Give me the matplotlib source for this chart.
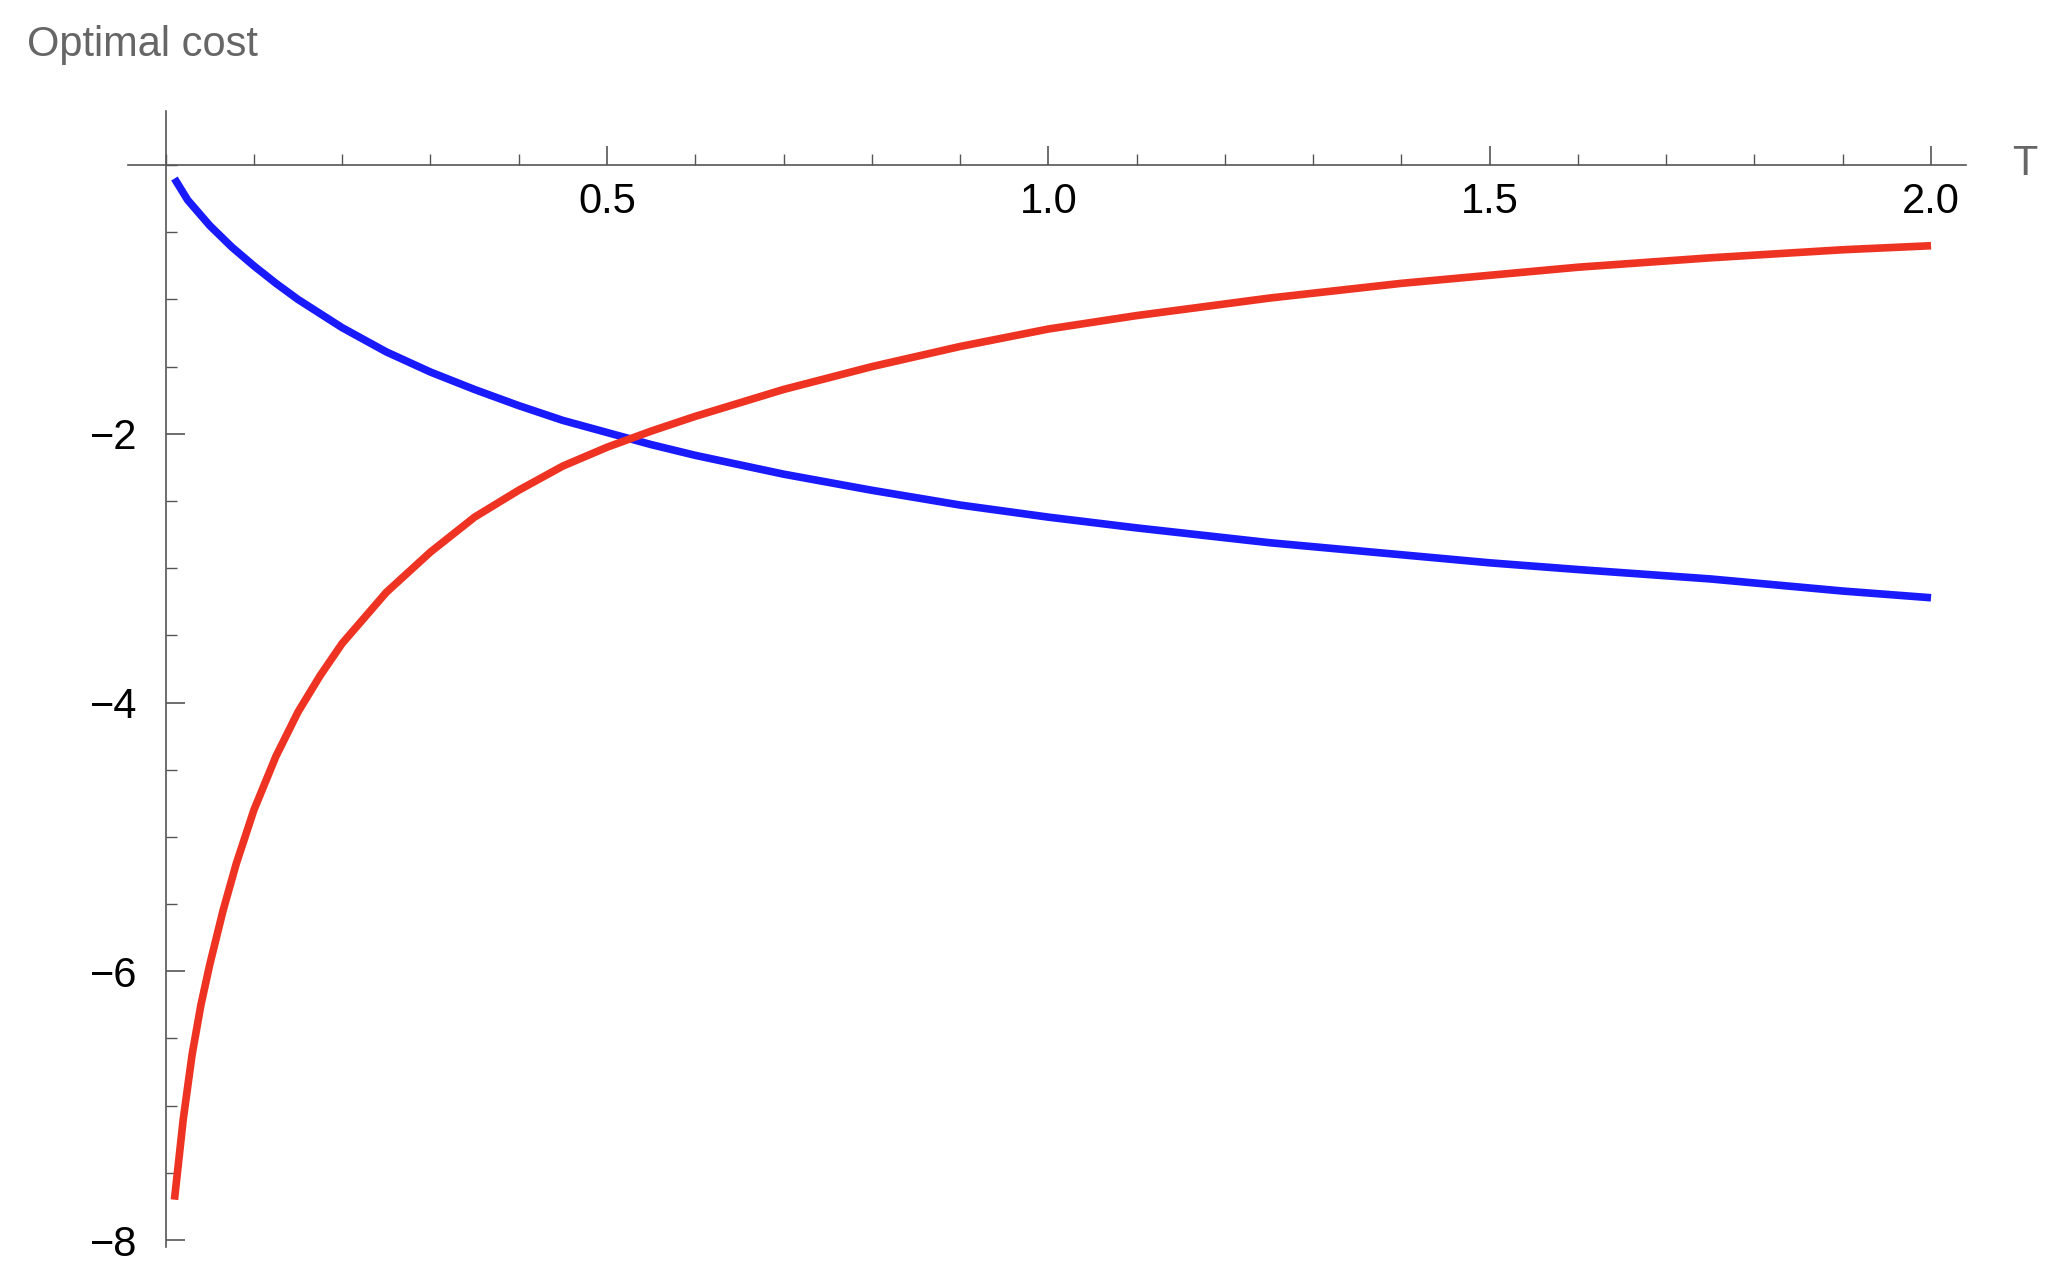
import matplotlib
matplotlib.use("Agg")
import matplotlib.pyplot as plt
from matplotlib.ticker import MultipleLocator

T_blue = [0.01, 0.025, 0.05, 0.075, 0.1, 0.125, 0.15, 0.2, 0.25, 0.3, 0.35, 0.4, 0.45, 0.5, 0.55, 0.6, 0.7, 0.8, 0.9, 1.0, 1.1, 1.25, 1.4, 1.5, 1.6, 1.75, 1.9, 2.0]
blue = [-0.1, -0.26, -0.45, -0.61, -0.75, -0.88, -1.0, -1.21, -1.39, -1.54, -1.67, -1.79, -1.9, -1.99, -2.08, -2.16, -2.3, -2.42, -2.53, -2.62, -2.7, -2.81, -2.9, -2.96, -3.01, -3.08, -3.17, -3.22]
T_red = [0.01, 0.02, 0.03, 0.04, 0.05, 0.065, 0.08, 0.1, 0.125, 0.15, 0.175, 0.2, 0.25, 0.3, 0.35, 0.4, 0.45, 0.5, 0.55, 0.6, 0.7, 0.8, 0.9, 1.0, 1.1, 1.25, 1.4, 1.5, 1.6, 1.75, 1.9, 2.0]
red = [-7.7, -7.1, -6.62, -6.25, -5.95, -5.55, -5.2, -4.8, -4.4, -4.07, -3.8, -3.56, -3.18, -2.88, -2.62, -2.42, -2.24, -2.1, -1.98, -1.87, -1.67, -1.5, -1.35, -1.22, -1.12, -0.99, -0.88, -0.82, -0.76, -0.69, -0.63, -0.6]
xticks = [0.5, 1.0, 1.5, 2.0]
yticks = [-2, -4, -6, -8]

plt.rcParams['font.family'] = ['Liberation Sans', 'DejaVu Sans']
fig = plt.figure(figsize=(20.59, 12.8), dpi=100)
ax = fig.add_axes([0.062, 0.026, 0.893, 0.887])
ax.plot(T_blue, blue, color="#1a1aff", lw=5.5, solid_capstyle="butt")
ax.plot(T_red, red, color="#ee3322", lw=5.5, solid_capstyle="butt")
ax.set_xlim(-0.043, 2.04)
ax.set_ylim(-8.05, 0.4)
for s in ["top", "right"]:
    ax.spines[s].set_visible(False)
ax.spines["left"].set_position(("data", 0))
ax.spines["bottom"].set_position(("data", 0))
for s in ["left", "bottom"]:
    ax.spines[s].set_color("#555555")
    ax.spines[s].set_linewidth(1.2)
ax.set_xticks(xticks)
ax.set_xticklabels([f"{v:.1f}" for v in xticks])
ax.set_yticks(yticks)
ax.set_yticklabels(["\u22122", "\u22124", "\u22126", "\u22128"])
ax.xaxis.set_minor_locator(MultipleLocator(0.1))
ax.yaxis.set_minor_locator(MultipleLocator(0.5))
ax.tick_params(axis="x", which="both", direction="in", color="#555555", labelsize=30, pad=12)
ax.tick_params(axis="y", which="both", direction="in", color="#555555", labelsize=30, pad=20)
ax.tick_params(which="major", length=14, width=1.2)
ax.tick_params(which="minor", length=8, width=1.0)
fig.text(0.013, 0.965, "Optimal cost", fontsize=30, color="#666666", va="center")
fig.text(0.977, 0.872, "T", fontsize=30, color="#666666", va="center")
fig.savefig("out.png", dpi=100)
